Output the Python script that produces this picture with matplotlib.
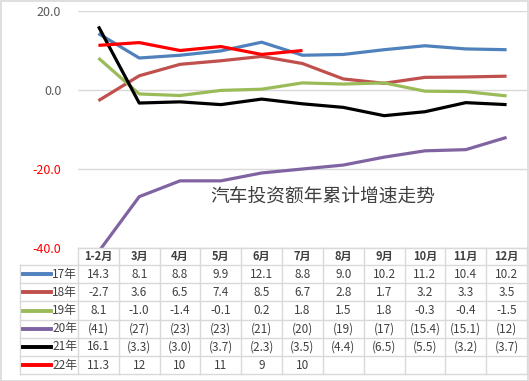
import matplotlib.pyplot as plt
import numpy as np
from matplotlib.lines import Line2D
from matplotlib.patches import Rectangle

plt.rcParams['font.family'] = ['Noto Sans CJK SC', 'DejaVu Sans']

months = ["1-2月", "3月", "4月", "5月", "6月", "7月", "8月", "9月", "10月", "11月", "12月"]
series_names = ["17年", "18年", "19年", "20年", "21年", "22年"]
y17 = [14.3, 8.1, 8.8, 9.9, 12.1, 8.8, 9.0, 10.2, 11.2, 10.4, 10.2]
y18 = [-2.7, 3.6, 6.5, 7.4, 8.5, 6.7, 2.8, 1.7, 3.2, 3.3, 3.5]
y19 = [8.1, -1.0, -1.4, -0.1, 0.2, 1.8, 1.5, 1.8, -0.3, -0.4, -1.5]
y20 = [-41, -27, -23, -23, -21, -20, -19, -17, -15.4, -15.1, -12]
y21 = [16.1, -3.3, -3.0, -3.7, -2.3, -3.5, -4.4, -6.5, -5.5, -3.2, -3.7]
y22 = [11.3, 12, 10, 11, 9, 10]

# texts shown in the table (as printed in the source)
t17 = ["14.3", "8.1", "8.8", "9.9", "12.1", "8.8", "9.0", "10.2", "11.2", "10.4", "10.2"]
t18 = ["-2.7", "3.6", "6.5", "7.4", "8.5", "6.7", "2.8", "1.7", "3.2", "3.3", "3.5"]
t19 = ["8.1", "-1.0", "-1.4", "-0.1", "0.2", "1.8", "1.5", "1.8", "-0.3", "-0.4", "-1.5"]
t20 = ["(41)", "(27)", "(23)", "(23)", "(21)", "(20)", "(19)", "(17)", "(15.4)", "(15.1)", "(12)"]
t21 = ["16.1", "(3.3)", "(3.0)", "(3.7)", "(2.3)", "(3.5)", "(4.4)", "(6.5)", "(5.5)", "(3.2)", "(3.7)"]
t22 = ["11.3", "12", "10", "11", "9", "10"]

colors = ["#4F81BD", "#C0504D", "#9BBB59", "#8064A2", "#000000", "#FF0000"]
values = [y17, y18, y19, y20, y21, y22]
texts = [t17, t18, t19, t20, t21, t22]

W, H = 529, 381
fig = plt.figure(figsize=(W / 100, H / 100), dpi=100)
ax = fig.add_axes([78 / W, 1 - 248 / H, (527 - 78) / W, (248 - 11) / H])

x = np.arange(len(months))
for vals, c in zip(values, colors):
    ax.plot(x[:len(vals)], vals, color=c, lw=2.3, solid_capstyle='butt', zorder=3)

ax.set_xlim(-0.5, len(months) - 0.5)
ax.set_ylim(-40, 20)
ax.set_yticks([-40, -20, 0, 20])
ax.set_yticklabels(["-40.0", "-20.0", "0.0", "20.0"], fontsize=9)
for lab, col in zip(ax.get_yticklabels(), ["red", "red", "#595959", "#595959"]):
    lab.set_color(col)
ax.set_xticks([])
ax.tick_params(axis='y', length=0, pad=12)
ax.grid(axis='y', color='#d9d9d9', lw=1)
ax.set_axisbelow(True)
for s in ax.spines.values():
    s.set_visible(False)

ax.text(0.545, 0.22, "汽车投资额年累计增速走势", transform=ax.transAxes,
        fontsize=13.5, color='#404040', ha='center', va='center')

# data table below the plot, in pixel coordinates
def fx(px):
    return px / W

def fy(py):
    return 1 - py / H

grid_c = '#d9d9d9'
tc = '#404040'
col_edges = [78 + i * (527 - 78) / len(months) for i in range(len(months) + 1)]
row_edges = [248, 265] + [265 + (i + 1) * 18.2 for i in range(len(series_names))]

# header cells
for i, m in enumerate(months):
    cx = (col_edges[i] + col_edges[i + 1]) / 2
    fig.text(fx(cx), fy((row_edges[0] + row_edges[1]) / 2), m, fontsize=8,
             color=tc, ha='center', va='center', weight='bold')
# vertical lines
for i, e in enumerate(col_edges):
    fig.add_artist(Line2D([fx(e), fx(e)], [fy(row_edges[0]), fy(row_edges[-1])], color=grid_c, lw=1))
fig.add_artist(Line2D([fx(20), fx(20)], [fy(row_edges[1]), fy(row_edges[-1])], color=grid_c, lw=1))
# horizontal lines
fig.add_artist(Line2D([fx(78), fx(527)], [fy(row_edges[0]), fy(row_edges[0])], color=grid_c, lw=1))
for e in row_edges[1:]:
    fig.add_artist(Line2D([fx(20), fx(527)], [fy(e), fy(e)], color=grid_c, lw=1))

for r, (name, c, tx) in enumerate(zip(series_names, colors, texts)):
    cy = (row_edges[r + 1] + row_edges[r + 2]) / 2
    fig.add_artist(Line2D([fx(23), fx(51)], [fy(cy), fy(cy)], color=c, lw=2.8))
    fig.text(fx(52), fy(cy), name, fontsize=8.5, color=tc, ha='left', va='center')
    for i, t in enumerate(tx):
        cx = (col_edges[i] + col_edges[i + 1]) / 2
        fig.text(fx(cx), fy(cy), t, fontsize=8.5, color=tc, ha='center', va='center')

# outer frame
fig.add_artist(Rectangle((0.5 / W, 0.5 / H), (W - 1.5) / W, (H - 1.5) / H,
                         transform=fig.transFigure, fill=False, ec='#d9d9d9', lw=1.2))

fig.savefig("out.png", dpi=100)
